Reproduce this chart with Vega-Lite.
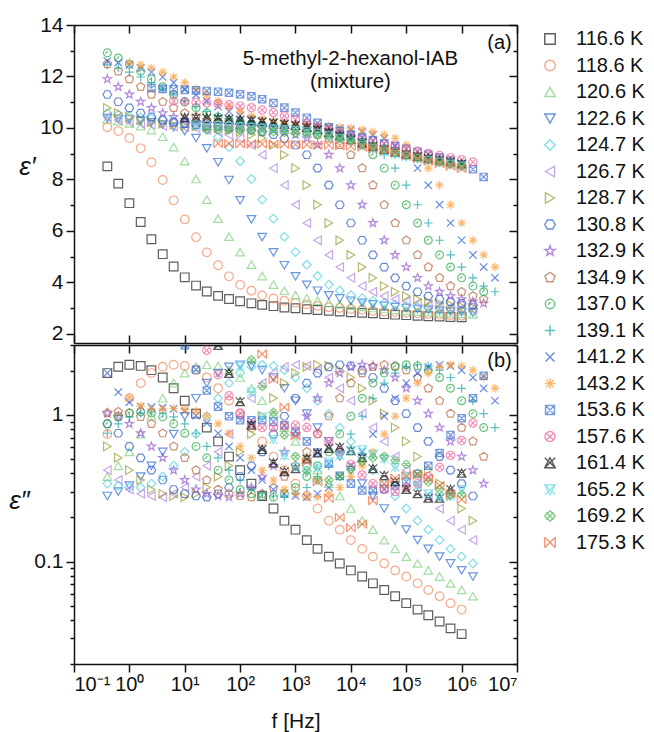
{
"$schema": "https://vega.github.io/schema/vega-lite/v6.json",
"background": "white",
"padding": {"left": 8, "top": 14, "right": 4, "bottom": 4},
"config": {
 "font": "Liberation Sans",
 "view": {"stroke": null},
 "axis": {"grid": false, "domainColor": "#111", "domainWidth": 1.5, "tickColor": "#111", "tickWidth": 1.5, "labelFont": "Liberation Sans", "labelFontSize": 20, "labelColor": "#111", "titleFont": "Liberation Sans", "titleColor": "#111", "titleFontWeight": "normal"}
},
"data": {"values": [
{"T":"116.6 K","f":0.4,"a":8.51,"b":1.93},{"T":"116.6 K","f":0.63,"a":7.84,"b":2.13},{"T":"116.6 K","f":1,"a":7.08,"b":2.2},{"T":"116.6 K","f":1.6,"a":6.35,"b":2.16},{"T":"116.6 K","f":2.5,"a":5.68,"b":2.02},{"T":"116.6 K","f":4,"a":5.1,"b":1.8},{"T":"116.6 K","f":6.3,"a":4.62,"b":1.52},{"T":"116.6 K","f":10,"a":4.2,"b":1.25},{"T":"116.6 K","f":16,"a":3.88,"b":1.02},{"T":"116.6 K","f":25,"a":3.65,"b":0.82},{"T":"116.6 K","f":40,"a":3.48,"b":0.66},{"T":"116.6 K","f":63,"a":3.36,"b":0.52},{"T":"116.6 K","f":100,"a":3.27,"b":0.42},{"T":"116.6 K","f":160,"a":3.19,"b":0.34},{"T":"116.6 K","f":250,"a":3.13,"b":0.28},{"T":"116.6 K","f":400,"a":3.08,"b":0.23},{"T":"116.6 K","f":630,"a":3.03,"b":0.19},{"T":"116.6 K","f":1000,"a":3.0,"b":0.165},{"T":"116.6 K","f":1600,"a":2.96,"b":0.14},{"T":"116.6 K","f":2500,"a":2.93,"b":0.122},{"T":"116.6 K","f":4000,"a":2.9,"b":0.108},{"T":"116.6 K","f":6300,"a":2.87,"b":0.097},{"T":"116.6 K","f":1e4,"a":2.84,"b":0.087},{"T":"116.6 K","f":1.6e4,"a":2.82,"b":0.079},{"T":"116.6 K","f":2.5e4,"a":2.8,"b":0.071},{"T":"116.6 K","f":4e4,"a":2.77,"b":0.064},{"T":"116.6 K","f":6.3e4,"a":2.75,"b":0.058},{"T":"116.6 K","f":1e5,"a":2.73,"b":0.052},{"T":"116.6 K","f":1.6e5,"a":2.71,"b":0.047},{"T":"116.6 K","f":2.5e5,"a":2.69,"b":0.043},{"T":"116.6 K","f":4e5,"a":2.68,"b":0.039},{"T":"116.6 K","f":6.3e5,"a":2.66,"b":0.035},{"T":"116.6 K","f":1e6,"a":2.65,"b":0.032},
{"T":"118.6 K","f":0.4,"a":10.03,"b":0.74},{"T":"118.6 K","f":0.63,"a":9.88,"b":0.98},{"T":"118.6 K","f":1,"a":9.61,"b":1.3},{"T":"118.6 K","f":1.6,"a":9.21,"b":1.65},{"T":"118.6 K","f":2.5,"a":8.67,"b":1.93},{"T":"118.6 K","f":4,"a":7.98,"b":2.13},{"T":"118.6 K","f":6.3,"a":7.19,"b":2.2},{"T":"118.6 K","f":10,"a":6.45,"b":2.16},{"T":"118.6 K","f":16,"a":5.76,"b":2.02},{"T":"118.6 K","f":25,"a":5.17,"b":1.8},{"T":"118.6 K","f":40,"a":4.67,"b":1.52},{"T":"118.6 K","f":63,"a":4.24,"b":1.25},{"T":"118.6 K","f":100,"a":3.91,"b":1.02},{"T":"118.6 K","f":160,"a":3.68,"b":0.82},{"T":"118.6 K","f":250,"a":3.5,"b":0.66},{"T":"118.6 K","f":400,"a":3.38,"b":0.52},{"T":"118.6 K","f":630,"a":3.29,"b":0.42},{"T":"118.6 K","f":1000,"a":3.21,"b":0.34},{"T":"118.6 K","f":1600,"a":3.15,"b":0.28},{"T":"118.6 K","f":2500,"a":3.09,"b":0.23},{"T":"118.6 K","f":4000,"a":3.04,"b":0.19},{"T":"118.6 K","f":6300,"a":3.01,"b":0.165},{"T":"118.6 K","f":1e4,"a":2.97,"b":0.14},{"T":"118.6 K","f":1.6e4,"a":2.94,"b":0.122},{"T":"118.6 K","f":2.5e4,"a":2.9,"b":0.108},{"T":"118.6 K","f":4e4,"a":2.87,"b":0.097},{"T":"118.6 K","f":6.3e4,"a":2.85,"b":0.087},{"T":"118.6 K","f":1e5,"a":2.83,"b":0.079},{"T":"118.6 K","f":1.6e5,"a":2.8,"b":0.071},{"T":"118.6 K","f":2.5e5,"a":2.78,"b":0.064},{"T":"118.6 K","f":4e5,"a":2.76,"b":0.058},{"T":"118.6 K","f":6.3e5,"a":2.73,"b":0.052},{"T":"118.6 K","f":1e6,"a":2.71,"b":0.047},
{"T":"120.6 K","f":0.4,"a":10.33,"b":0.38},{"T":"120.6 K","f":0.63,"a":10.27,"b":0.45},{"T":"120.6 K","f":1,"a":10.18,"b":0.56},{"T":"120.6 K","f":1.6,"a":10.07,"b":0.74},{"T":"120.6 K","f":2.5,"a":9.92,"b":0.98},{"T":"120.6 K","f":4,"a":9.66,"b":1.3},{"T":"120.6 K","f":6.3,"a":9.26,"b":1.65},{"T":"120.6 K","f":10,"a":8.71,"b":1.93},{"T":"120.6 K","f":16,"a":8.02,"b":2.13},{"T":"120.6 K","f":25,"a":7.22,"b":2.2},{"T":"120.6 K","f":40,"a":6.48,"b":2.16},{"T":"120.6 K","f":63,"a":5.78,"b":2.02},{"T":"120.6 K","f":100,"a":5.18,"b":1.8},{"T":"120.6 K","f":160,"a":4.69,"b":1.52},{"T":"120.6 K","f":250,"a":4.25,"b":1.25},{"T":"120.6 K","f":400,"a":3.92,"b":1.02},{"T":"120.6 K","f":630,"a":3.68,"b":0.82},{"T":"120.6 K","f":1000,"a":3.51,"b":0.66},{"T":"120.6 K","f":1600,"a":3.39,"b":0.52},{"T":"120.6 K","f":2500,"a":3.29,"b":0.42},{"T":"120.6 K","f":4000,"a":3.21,"b":0.34},{"T":"120.6 K","f":6300,"a":3.15,"b":0.28},{"T":"120.6 K","f":1e4,"a":3.09,"b":0.23},{"T":"120.6 K","f":1.6e4,"a":3.05,"b":0.19},{"T":"120.6 K","f":2.5e4,"a":3.01,"b":0.165},{"T":"120.6 K","f":4e4,"a":2.97,"b":0.14},{"T":"120.6 K","f":6.3e4,"a":2.94,"b":0.122},{"T":"120.6 K","f":1e5,"a":2.91,"b":0.108},{"T":"120.6 K","f":1.6e5,"a":2.87,"b":0.097},{"T":"120.6 K","f":2.5e5,"a":2.85,"b":0.087},{"T":"120.6 K","f":4e5,"a":2.83,"b":0.079},{"T":"120.6 K","f":6.3e5,"a":2.8,"b":0.071},{"T":"120.6 K","f":1e6,"a":2.78,"b":0.064},{"T":"120.6 K","f":1.6e6,"a":2.76,"b":0.058},
{"T":"122.6 K","f":0.4,"a":10.38,"b":0.28},{"T":"122.6 K","f":0.63,"a":10.36,"b":0.3},{"T":"122.6 K","f":1,"a":10.33,"b":0.33},{"T":"122.6 K","f":1.6,"a":10.28,"b":0.38},{"T":"122.6 K","f":2.5,"a":10.22,"b":0.45},{"T":"122.6 K","f":4,"a":10.13,"b":0.56},{"T":"122.6 K","f":6.3,"a":10.03,"b":0.74},{"T":"122.6 K","f":10,"a":9.88,"b":0.98},{"T":"122.6 K","f":16,"a":9.61,"b":1.3},{"T":"122.6 K","f":25,"a":9.21,"b":1.65},{"T":"122.6 K","f":40,"a":8.67,"b":1.93},{"T":"122.6 K","f":63,"a":7.98,"b":2.13},{"T":"122.6 K","f":100,"a":7.19,"b":2.2},{"T":"122.6 K","f":160,"a":6.45,"b":2.16},{"T":"122.6 K","f":250,"a":5.76,"b":2.02},{"T":"122.6 K","f":400,"a":5.17,"b":1.8},{"T":"122.6 K","f":630,"a":4.67,"b":1.52},{"T":"122.6 K","f":1000,"a":4.24,"b":1.25},{"T":"122.6 K","f":1600,"a":3.91,"b":1.02},{"T":"122.6 K","f":2500,"a":3.68,"b":0.82},{"T":"122.6 K","f":4000,"a":3.5,"b":0.66},{"T":"122.6 K","f":6300,"a":3.38,"b":0.52},{"T":"122.6 K","f":1e4,"a":3.29,"b":0.42},{"T":"122.6 K","f":1.6e4,"a":3.21,"b":0.34},{"T":"122.6 K","f":2.5e4,"a":3.15,"b":0.28},{"T":"122.6 K","f":4e4,"a":3.09,"b":0.23},{"T":"122.6 K","f":6.3e4,"a":3.04,"b":0.19},{"T":"122.6 K","f":1e5,"a":3.01,"b":0.165},{"T":"122.6 K","f":1.6e5,"a":2.97,"b":0.14},{"T":"122.6 K","f":2.5e5,"a":2.94,"b":0.122},{"T":"122.6 K","f":4e5,"a":2.9,"b":0.108},{"T":"122.6 K","f":6.3e5,"a":2.87,"b":0.097},{"T":"122.6 K","f":1e6,"a":2.85,"b":0.087},{"T":"122.6 K","f":1.6e6,"a":2.83,"b":0.079},
{"T":"124.7 K","f":0.4,"a":10.58,"b":0.34},{"T":"124.7 K","f":0.63,"a":10.52,"b":0.33},{"T":"124.7 K","f":1,"a":10.46,"b":0.32},{"T":"124.7 K","f":1.6,"a":10.41,"b":0.32},{"T":"124.7 K","f":2.5,"a":10.38,"b":0.34},{"T":"124.7 K","f":4,"a":10.33,"b":0.38},{"T":"124.7 K","f":6.3,"a":10.27,"b":0.45},{"T":"124.7 K","f":10,"a":10.18,"b":0.56},{"T":"124.7 K","f":16,"a":10.07,"b":0.74},{"T":"124.7 K","f":25,"a":9.92,"b":0.98},{"T":"124.7 K","f":40,"a":9.66,"b":1.3},{"T":"124.7 K","f":63,"a":9.26,"b":1.65},{"T":"124.7 K","f":100,"a":8.71,"b":1.93},{"T":"124.7 K","f":160,"a":8.02,"b":2.13},{"T":"124.7 K","f":250,"a":7.22,"b":2.2},{"T":"124.7 K","f":400,"a":6.48,"b":2.16},{"T":"124.7 K","f":630,"a":5.78,"b":2.02},{"T":"124.7 K","f":1000,"a":5.18,"b":1.8},{"T":"124.7 K","f":1600,"a":4.69,"b":1.52},{"T":"124.7 K","f":2500,"a":4.25,"b":1.25},{"T":"124.7 K","f":4000,"a":3.92,"b":1.02},{"T":"124.7 K","f":6300,"a":3.68,"b":0.82},{"T":"124.7 K","f":1e4,"a":3.51,"b":0.66},{"T":"124.7 K","f":1.6e4,"a":3.39,"b":0.52},{"T":"124.7 K","f":2.5e4,"a":3.29,"b":0.42},{"T":"124.7 K","f":4e4,"a":3.21,"b":0.34},{"T":"124.7 K","f":6.3e4,"a":3.15,"b":0.28},{"T":"124.7 K","f":1e5,"a":3.09,"b":0.23},{"T":"124.7 K","f":1.6e5,"a":3.05,"b":0.19},{"T":"124.7 K","f":2.5e5,"a":3.01,"b":0.165},{"T":"124.7 K","f":4e5,"a":2.97,"b":0.14},{"T":"124.7 K","f":6.3e5,"a":2.94,"b":0.122},{"T":"124.7 K","f":1e6,"a":2.91,"b":0.108},{"T":"124.7 K","f":1.6e6,"a":2.87,"b":0.097},
{"T":"126.7 K","f":0.4,"a":10.43,"b":0.42},{"T":"126.7 K","f":0.63,"a":10.31,"b":0.36},{"T":"126.7 K","f":1,"a":10.23,"b":0.31},{"T":"126.7 K","f":1.6,"a":10.17,"b":0.29},{"T":"126.7 K","f":2.5,"a":10.13,"b":0.28},{"T":"126.7 K","f":4,"a":10.08,"b":0.275},{"T":"126.7 K","f":6.3,"a":10.06,"b":0.29},{"T":"126.7 K","f":10,"a":10.03,"b":0.32},{"T":"126.7 K","f":16,"a":9.99,"b":0.38},{"T":"126.7 K","f":25,"a":9.93,"b":0.45},{"T":"126.7 K","f":40,"a":9.85,"b":0.56},{"T":"126.7 K","f":63,"a":9.74,"b":0.74},{"T":"126.7 K","f":100,"a":9.6,"b":0.98},{"T":"126.7 K","f":160,"a":9.34,"b":1.3},{"T":"126.7 K","f":250,"a":8.96,"b":1.65},{"T":"126.7 K","f":400,"a":8.44,"b":1.93},{"T":"126.7 K","f":630,"a":7.78,"b":2.13},{"T":"126.7 K","f":1000,"a":7.02,"b":2.2},{"T":"126.7 K","f":1600,"a":6.31,"b":2.16},{"T":"126.7 K","f":2500,"a":5.64,"b":2.02},{"T":"126.7 K","f":4000,"a":5.07,"b":1.8},{"T":"126.7 K","f":6300,"a":4.6,"b":1.52},{"T":"126.7 K","f":1e4,"a":4.18,"b":1.25},{"T":"126.7 K","f":1.6e4,"a":3.86,"b":1.02},{"T":"126.7 K","f":2.5e4,"a":3.64,"b":0.82},{"T":"126.7 K","f":4e4,"a":3.47,"b":0.66},{"T":"126.7 K","f":6.3e4,"a":3.35,"b":0.52},{"T":"126.7 K","f":1e5,"a":3.26,"b":0.42},{"T":"126.7 K","f":1.6e5,"a":3.19,"b":0.34},{"T":"126.7 K","f":2.5e5,"a":3.13,"b":0.28},{"T":"126.7 K","f":4e5,"a":3.07,"b":0.23},{"T":"126.7 K","f":6.3e5,"a":3.03,"b":0.19},{"T":"126.7 K","f":1e6,"a":2.99,"b":0.165},{"T":"126.7 K","f":1.6e6,"a":2.95,"b":0.14},
{"T":"128.7 K","f":0.4,"a":10.78,"b":0.61},{"T":"128.7 K","f":0.63,"a":10.58,"b":0.51},{"T":"128.7 K","f":1,"a":10.43,"b":0.42},{"T":"128.7 K","f":1.6,"a":10.31,"b":0.36},{"T":"128.7 K","f":2.5,"a":10.23,"b":0.31},{"T":"128.7 K","f":4,"a":10.17,"b":0.29},{"T":"128.7 K","f":6.3,"a":10.13,"b":0.28},{"T":"128.7 K","f":10,"a":10.08,"b":0.275},{"T":"128.7 K","f":16,"a":10.06,"b":0.29},{"T":"128.7 K","f":25,"a":10.03,"b":0.32},{"T":"128.7 K","f":40,"a":9.99,"b":0.38},{"T":"128.7 K","f":63,"a":9.93,"b":0.45},{"T":"128.7 K","f":100,"a":9.85,"b":0.56},{"T":"128.7 K","f":160,"a":9.74,"b":0.74},{"T":"128.7 K","f":250,"a":9.6,"b":0.98},{"T":"128.7 K","f":400,"a":9.34,"b":1.3},{"T":"128.7 K","f":630,"a":8.96,"b":1.65},{"T":"128.7 K","f":1000,"a":8.44,"b":1.93},{"T":"128.7 K","f":1600,"a":7.78,"b":2.13},{"T":"128.7 K","f":2500,"a":7.02,"b":2.2},{"T":"128.7 K","f":4000,"a":6.31,"b":2.16},{"T":"128.7 K","f":6300,"a":5.64,"b":2.02},{"T":"128.7 K","f":1e4,"a":5.07,"b":1.8},{"T":"128.7 K","f":1.6e4,"a":4.6,"b":1.52},{"T":"128.7 K","f":2.5e4,"a":4.18,"b":1.25},{"T":"128.7 K","f":4e4,"a":3.86,"b":1.02},{"T":"128.7 K","f":6.3e4,"a":3.64,"b":0.82},{"T":"128.7 K","f":1e5,"a":3.47,"b":0.66},{"T":"128.7 K","f":1.6e5,"a":3.35,"b":0.52},{"T":"128.7 K","f":2.5e5,"a":3.26,"b":0.42},{"T":"128.7 K","f":4e5,"a":3.19,"b":0.34},{"T":"128.7 K","f":6.3e5,"a":3.13,"b":0.28},{"T":"128.7 K","f":1e6,"a":3.07,"b":0.23},{"T":"128.7 K","f":1.6e6,"a":3.03,"b":0.19},
{"T":"130.8 K","f":0.4,"a":11.3,"b":0.87},{"T":"130.8 K","f":0.63,"a":11.02,"b":0.75},{"T":"130.8 K","f":1,"a":10.78,"b":0.61},{"T":"130.8 K","f":1.6,"a":10.58,"b":0.51},{"T":"130.8 K","f":2.5,"a":10.43,"b":0.42},{"T":"130.8 K","f":4,"a":10.31,"b":0.36},{"T":"130.8 K","f":6.3,"a":10.23,"b":0.31},{"T":"130.8 K","f":10,"a":10.17,"b":0.29},{"T":"130.8 K","f":16,"a":10.13,"b":0.28},{"T":"130.8 K","f":25,"a":10.08,"b":0.275},{"T":"130.8 K","f":40,"a":10.06,"b":0.29},{"T":"130.8 K","f":63,"a":10.03,"b":0.32},{"T":"130.8 K","f":100,"a":9.99,"b":0.38},{"T":"130.8 K","f":160,"a":9.93,"b":0.45},{"T":"130.8 K","f":250,"a":9.85,"b":0.56},{"T":"130.8 K","f":400,"a":9.74,"b":0.74},{"T":"130.8 K","f":630,"a":9.6,"b":0.98},{"T":"130.8 K","f":1000,"a":9.34,"b":1.3},{"T":"130.8 K","f":1600,"a":8.96,"b":1.65},{"T":"130.8 K","f":2500,"a":8.44,"b":1.93},{"T":"130.8 K","f":4000,"a":7.78,"b":2.13},{"T":"130.8 K","f":6300,"a":7.02,"b":2.2},{"T":"130.8 K","f":1e4,"a":6.31,"b":2.16},{"T":"130.8 K","f":1.6e4,"a":5.64,"b":2.02},{"T":"130.8 K","f":2.5e4,"a":5.07,"b":1.8},{"T":"130.8 K","f":4e4,"a":4.6,"b":1.52},{"T":"130.8 K","f":6.3e4,"a":4.18,"b":1.25},{"T":"130.8 K","f":1e5,"a":3.86,"b":1.02},{"T":"130.8 K","f":1.6e5,"a":3.64,"b":0.82},{"T":"130.8 K","f":2.5e5,"a":3.47,"b":0.66},{"T":"130.8 K","f":4e5,"a":3.35,"b":0.52},{"T":"130.8 K","f":6.3e5,"a":3.26,"b":0.42},{"T":"130.8 K","f":1e6,"a":3.19,"b":0.34},{"T":"130.8 K","f":1.6e6,"a":3.13,"b":0.28},
{"T":"132.9 K","f":0.4,"a":11.9,"b":1.03},{"T":"132.9 K","f":0.63,"a":11.6,"b":0.97},{"T":"132.9 K","f":1,"a":11.3,"b":0.87},{"T":"132.9 K","f":1.6,"a":11.02,"b":0.75},{"T":"132.9 K","f":2.5,"a":10.78,"b":0.61},{"T":"132.9 K","f":4,"a":10.58,"b":0.51},{"T":"132.9 K","f":6.3,"a":10.43,"b":0.42},{"T":"132.9 K","f":10,"a":10.31,"b":0.36},{"T":"132.9 K","f":16,"a":10.23,"b":0.31},{"T":"132.9 K","f":25,"a":10.17,"b":0.29},{"T":"132.9 K","f":40,"a":10.13,"b":0.28},{"T":"132.9 K","f":63,"a":10.08,"b":0.275},{"T":"132.9 K","f":100,"a":10.06,"b":0.29},{"T":"132.9 K","f":160,"a":10.03,"b":0.32},{"T":"132.9 K","f":250,"a":9.99,"b":0.38},{"T":"132.9 K","f":400,"a":9.93,"b":0.45},{"T":"132.9 K","f":630,"a":9.85,"b":0.56},{"T":"132.9 K","f":1000,"a":9.74,"b":0.74},{"T":"132.9 K","f":1600,"a":9.6,"b":0.98},{"T":"132.9 K","f":2500,"a":9.34,"b":1.3},{"T":"132.9 K","f":4000,"a":8.96,"b":1.65},{"T":"132.9 K","f":6300,"a":8.44,"b":1.93},{"T":"132.9 K","f":1e4,"a":7.78,"b":2.13},{"T":"132.9 K","f":1.6e4,"a":7.02,"b":2.2},{"T":"132.9 K","f":2.5e4,"a":6.31,"b":2.16},{"T":"132.9 K","f":4e4,"a":5.64,"b":2.02},{"T":"132.9 K","f":6.3e4,"a":5.07,"b":1.8},{"T":"132.9 K","f":1e5,"a":4.6,"b":1.52},{"T":"132.9 K","f":1.6e5,"a":4.18,"b":1.25},{"T":"132.9 K","f":2.5e5,"a":3.86,"b":1.02},{"T":"132.9 K","f":4e5,"a":3.64,"b":0.82},{"T":"132.9 K","f":6.3e5,"a":3.47,"b":0.66},{"T":"132.9 K","f":1e6,"a":3.35,"b":0.52},{"T":"132.9 K","f":1.6e6,"a":3.26,"b":0.42},{"T":"132.9 K","f":2.5e6,"a":3.19,"b":0.34},
{"T":"134.9 K","f":0.4,"a":12.48,"b":1.03},{"T":"134.9 K","f":0.63,"a":12.2,"b":1.05},{"T":"134.9 K","f":1,"a":11.9,"b":1.03},{"T":"134.9 K","f":1.6,"a":11.6,"b":0.97},{"T":"134.9 K","f":2.5,"a":11.3,"b":0.87},{"T":"134.9 K","f":4,"a":11.02,"b":0.75},{"T":"134.9 K","f":6.3,"a":10.78,"b":0.61},{"T":"134.9 K","f":10,"a":10.58,"b":0.51},{"T":"134.9 K","f":16,"a":10.43,"b":0.42},{"T":"134.9 K","f":25,"a":10.31,"b":0.36},{"T":"134.9 K","f":40,"a":10.23,"b":0.31},{"T":"134.9 K","f":63,"a":10.17,"b":0.29},{"T":"134.9 K","f":100,"a":10.13,"b":0.28},{"T":"134.9 K","f":160,"a":10.08,"b":0.275},{"T":"134.9 K","f":250,"a":10.06,"b":0.29},{"T":"134.9 K","f":400,"a":10.03,"b":0.32},{"T":"134.9 K","f":630,"a":9.99,"b":0.38},{"T":"134.9 K","f":1000,"a":9.93,"b":0.45},{"T":"134.9 K","f":1600,"a":9.85,"b":0.56},{"T":"134.9 K","f":2500,"a":9.74,"b":0.74},{"T":"134.9 K","f":4000,"a":9.6,"b":0.98},{"T":"134.9 K","f":6300,"a":9.34,"b":1.3},{"T":"134.9 K","f":1e4,"a":8.96,"b":1.65},{"T":"134.9 K","f":1.6e4,"a":8.44,"b":1.93},{"T":"134.9 K","f":2.5e4,"a":7.78,"b":2.13},{"T":"134.9 K","f":4e4,"a":7.02,"b":2.2},{"T":"134.9 K","f":6.3e4,"a":6.31,"b":2.16},{"T":"134.9 K","f":1e5,"a":5.64,"b":2.02},{"T":"134.9 K","f":1.6e5,"a":5.07,"b":1.8},{"T":"134.9 K","f":2.5e5,"a":4.6,"b":1.52},{"T":"134.9 K","f":4e5,"a":4.18,"b":1.25},{"T":"134.9 K","f":6.3e5,"a":3.86,"b":1.02},{"T":"134.9 K","f":1e6,"a":3.64,"b":0.82},{"T":"134.9 K","f":1.6e6,"a":3.47,"b":0.66},{"T":"134.9 K","f":2.5e6,"a":3.35,"b":0.52},
{"T":"137.0 K","f":0.4,"a":12.92,"b":0.87},{"T":"137.0 K","f":0.63,"a":12.72,"b":0.97},{"T":"137.0 K","f":1,"a":12.48,"b":1.03},{"T":"137.0 K","f":1.6,"a":12.2,"b":1.05},{"T":"137.0 K","f":2.5,"a":11.9,"b":1.03},{"T":"137.0 K","f":4,"a":11.6,"b":0.97},{"T":"137.0 K","f":6.3,"a":11.3,"b":0.87},{"T":"137.0 K","f":10,"a":11.02,"b":0.75},{"T":"137.0 K","f":16,"a":10.78,"b":0.61},{"T":"137.0 K","f":25,"a":10.58,"b":0.51},{"T":"137.0 K","f":40,"a":10.43,"b":0.42},{"T":"137.0 K","f":63,"a":10.31,"b":0.36},{"T":"137.0 K","f":100,"a":10.23,"b":0.31},{"T":"137.0 K","f":160,"a":10.17,"b":0.29},{"T":"137.0 K","f":250,"a":10.13,"b":0.28},{"T":"137.0 K","f":400,"a":10.08,"b":0.275},{"T":"137.0 K","f":630,"a":10.06,"b":0.29},{"T":"137.0 K","f":1000,"a":10.03,"b":0.32},{"T":"137.0 K","f":1600,"a":9.99,"b":0.38},{"T":"137.0 K","f":2500,"a":9.93,"b":0.45},{"T":"137.0 K","f":4000,"a":9.85,"b":0.56},{"T":"137.0 K","f":6300,"a":9.74,"b":0.74},{"T":"137.0 K","f":1e4,"a":9.6,"b":0.98},{"T":"137.0 K","f":1.6e4,"a":9.34,"b":1.3},{"T":"137.0 K","f":2.5e4,"a":8.96,"b":1.65},{"T":"137.0 K","f":4e4,"a":8.44,"b":1.93},{"T":"137.0 K","f":6.3e4,"a":7.78,"b":2.13},{"T":"137.0 K","f":1e5,"a":7.02,"b":2.2},{"T":"137.0 K","f":1.6e5,"a":6.31,"b":2.16},{"T":"137.0 K","f":2.5e5,"a":5.64,"b":2.02},{"T":"137.0 K","f":4e5,"a":5.07,"b":1.8},{"T":"137.0 K","f":6.3e5,"a":4.6,"b":1.52},{"T":"137.0 K","f":1e6,"a":4.18,"b":1.25},{"T":"137.0 K","f":1.6e6,"a":3.86,"b":1.02},{"T":"137.0 K","f":2.5e6,"a":3.64,"b":0.82},
{"T":"139.1 K","f":0.4,"a":12.45,"b":0.75},{"T":"139.1 K","f":0.63,"a":12.33,"b":0.87},{"T":"139.1 K","f":1,"a":12.17,"b":0.97},{"T":"139.1 K","f":1.6,"a":11.98,"b":1.03},{"T":"139.1 K","f":2.5,"a":11.76,"b":1.05},{"T":"139.1 K","f":4,"a":11.52,"b":1.03},{"T":"139.1 K","f":6.3,"a":11.29,"b":0.97},{"T":"139.1 K","f":10,"a":11.05,"b":0.87},{"T":"139.1 K","f":16,"a":10.83,"b":0.75},{"T":"139.1 K","f":25,"a":10.64,"b":0.61},{"T":"139.1 K","f":40,"a":10.48,"b":0.51},{"T":"139.1 K","f":63,"a":10.36,"b":0.42},{"T":"139.1 K","f":100,"a":10.27,"b":0.36},{"T":"139.1 K","f":160,"a":10.2,"b":0.31},{"T":"139.1 K","f":250,"a":10.16,"b":0.29},{"T":"139.1 K","f":400,"a":10.12,"b":0.28},{"T":"139.1 K","f":630,"a":10.08,"b":0.275},{"T":"139.1 K","f":1000,"a":10.06,"b":0.29},{"T":"139.1 K","f":1600,"a":10.03,"b":0.32},{"T":"139.1 K","f":2500,"a":9.99,"b":0.38},{"T":"139.1 K","f":4000,"a":9.93,"b":0.45},{"T":"139.1 K","f":6300,"a":9.85,"b":0.56},{"T":"139.1 K","f":1e4,"a":9.74,"b":0.74},{"T":"139.1 K","f":1.6e4,"a":9.6,"b":0.98},{"T":"139.1 K","f":2.5e4,"a":9.34,"b":1.3},{"T":"139.1 K","f":4e4,"a":8.96,"b":1.65},{"T":"139.1 K","f":6.3e4,"a":8.44,"b":1.93},{"T":"139.1 K","f":1e5,"a":7.78,"b":2.13},{"T":"139.1 K","f":1.6e5,"a":7.02,"b":2.2},{"T":"139.1 K","f":2.5e5,"a":6.31,"b":2.16},{"T":"139.1 K","f":4e5,"a":5.64,"b":2.02},{"T":"139.1 K","f":6.3e5,"a":5.07,"b":1.8},{"T":"139.1 K","f":1e6,"a":4.6,"b":1.52},{"T":"139.1 K","f":1.6e6,"a":4.18,"b":1.25},{"T":"139.1 K","f":2.5e6,"a":3.86,"b":1.02},{"T":"139.1 K","f":4e6,"a":3.64,"b":0.82},
{"T":"141.2 K","f":0.4,"a":12.6,"b":1.93},{"T":"141.2 K","f":0.63,"a":12.54,"b":1.43},{"T":"141.2 K","f":1,"a":12.45,"b":1.22},{"T":"141.2 K","f":1.6,"a":12.33,"b":1.14},{"T":"141.2 K","f":2.5,"a":12.17,"b":1.13},{"T":"141.2 K","f":4,"a":11.98,"b":1.12},{"T":"141.2 K","f":6.3,"a":11.76,"b":1.1},{"T":"141.2 K","f":10,"a":11.52,"b":1.06},{"T":"141.2 K","f":16,"a":11.29,"b":0.99},{"T":"141.2 K","f":25,"a":11.05,"b":0.88},{"T":"141.2 K","f":40,"a":10.83,"b":0.75},{"T":"141.2 K","f":63,"a":10.64,"b":0.61},{"T":"141.2 K","f":100,"a":10.48,"b":0.51},{"T":"141.2 K","f":160,"a":10.36,"b":0.42},{"T":"141.2 K","f":250,"a":10.27,"b":0.36},{"T":"141.2 K","f":400,"a":10.2,"b":0.31},{"T":"141.2 K","f":630,"a":10.16,"b":0.29},{"T":"141.2 K","f":1000,"a":10.12,"b":0.28},{"T":"141.2 K","f":1600,"a":10.08,"b":0.275},{"T":"141.2 K","f":2500,"a":10.06,"b":0.29},{"T":"141.2 K","f":4000,"a":10.03,"b":0.32},{"T":"141.2 K","f":6300,"a":9.99,"b":0.38},{"T":"141.2 K","f":1e4,"a":9.93,"b":0.45},{"T":"141.2 K","f":1.6e4,"a":9.85,"b":0.56},{"T":"141.2 K","f":2.5e4,"a":9.74,"b":0.74},{"T":"141.2 K","f":4e4,"a":9.6,"b":0.98},{"T":"141.2 K","f":6.3e4,"a":9.34,"b":1.3},{"T":"141.2 K","f":1e5,"a":8.96,"b":1.65},{"T":"141.2 K","f":1.6e5,"a":8.44,"b":1.93},{"T":"141.2 K","f":2.5e5,"a":7.78,"b":2.13},{"T":"141.2 K","f":4e5,"a":7.02,"b":2.2},{"T":"141.2 K","f":6.3e5,"a":6.31,"b":2.16},{"T":"141.2 K","f":1e6,"a":5.64,"b":2.02},{"T":"141.2 K","f":1.6e6,"a":5.07,"b":1.8},{"T":"141.2 K","f":2.5e6,"a":4.6,"b":1.52},{"T":"141.2 K","f":4e6,"a":4.18,"b":1.25},
{"T":"143.2 K","f":1,"a":12.54,"b":1.31},{"T":"143.2 K","f":1.6,"a":12.45,"b":1.15},{"T":"143.2 K","f":2.5,"a":12.33,"b":1.1},{"T":"143.2 K","f":4,"a":12.17,"b":1.1},{"T":"143.2 K","f":6.3,"a":11.98,"b":1.11},{"T":"143.2 K","f":10,"a":11.76,"b":1.09},{"T":"143.2 K","f":16,"a":11.52,"b":1.06},{"T":"143.2 K","f":25,"a":11.29,"b":0.985},{"T":"143.2 K","f":40,"a":11.05,"b":0.87},{"T":"143.2 K","f":63,"a":10.83,"b":0.75},{"T":"143.2 K","f":100,"a":10.64,"b":0.61},{"T":"143.2 K","f":160,"a":10.48,"b":0.51},{"T":"143.2 K","f":250,"a":10.36,"b":0.42},{"T":"143.2 K","f":400,"a":10.27,"b":0.36},{"T":"143.2 K","f":630,"a":10.2,"b":0.31},{"T":"143.2 K","f":1000,"a":10.16,"b":0.29},{"T":"143.2 K","f":1600,"a":10.12,"b":0.28},{"T":"143.2 K","f":2500,"a":10.08,"b":0.275},{"T":"143.2 K","f":4000,"a":10.06,"b":0.29},{"T":"143.2 K","f":6300,"a":10.03,"b":0.32},{"T":"143.2 K","f":1e4,"a":9.99,"b":0.38},{"T":"143.2 K","f":1.6e4,"a":9.93,"b":0.45},{"T":"143.2 K","f":2.5e4,"a":9.85,"b":0.56},{"T":"143.2 K","f":4e4,"a":9.74,"b":0.74},{"T":"143.2 K","f":6.3e4,"a":9.6,"b":0.98},{"T":"143.2 K","f":1e5,"a":9.34,"b":1.3},{"T":"143.2 K","f":1.6e5,"a":8.96,"b":1.65},{"T":"143.2 K","f":2.5e5,"a":8.44,"b":1.93},{"T":"143.2 K","f":4e5,"a":7.78,"b":2.13},{"T":"143.2 K","f":6.3e5,"a":7.02,"b":2.2},{"T":"143.2 K","f":1e6,"a":6.31,"b":2.16},{"T":"143.2 K","f":1.6e6,"a":5.64,"b":2.02},{"T":"143.2 K","f":2.5e6,"a":5.07,"b":1.8},{"T":"143.2 K","f":4e6,"a":4.6,"b":1.52},
{"T":"153.6 K","f":2.5,"a":11.55,"b":10.5},{"T":"153.6 K","f":4,"a":11.52,"b":6.8},{"T":"153.6 K","f":6.3,"a":11.5,"b":4.48},{"T":"153.6 K","f":10,"a":11.48,"b":2.98},{"T":"153.6 K","f":16,"a":11.46,"b":2.04},{"T":"153.6 K","f":25,"a":11.44,"b":1.47},{"T":"153.6 K","f":40,"a":11.41,"b":1.14},{"T":"153.6 K","f":63,"a":11.37,"b":0.98},{"T":"153.6 K","f":100,"a":11.31,"b":0.92},{"T":"153.6 K","f":160,"a":11.23,"b":0.92},{"T":"153.6 K","f":250,"a":11.12,"b":0.92},{"T":"153.6 K","f":400,"a":10.97,"b":0.9},{"T":"153.6 K","f":630,"a":10.79,"b":0.85},{"T":"153.6 K","f":1000,"a":10.6,"b":0.77},{"T":"153.6 K","f":1600,"a":10.4,"b":0.66},{"T":"153.6 K","f":2500,"a":10.2,"b":0.555},{"T":"153.6 K","f":4000,"a":10.03,"b":0.465},{"T":"153.6 K","f":6300,"a":9.88,"b":0.385},{"T":"153.6 K","f":1e4,"a":9.75,"b":0.34},{"T":"153.6 K","f":1.6e4,"a":9.63,"b":0.305},{"T":"153.6 K","f":2.5e4,"a":9.52,"b":0.305},{"T":"153.6 K","f":4e4,"a":9.41,"b":0.313},{"T":"153.6 K","f":6.3e4,"a":9.3,"b":0.33},{"T":"153.6 K","f":1e5,"a":9.19,"b":0.35},{"T":"153.6 K","f":1.6e5,"a":9.08,"b":0.395},{"T":"153.6 K","f":2.5e5,"a":8.97,"b":0.45},{"T":"153.6 K","f":4e5,"a":8.86,"b":0.55},{"T":"153.6 K","f":6.3e5,"a":8.74,"b":0.73},{"T":"153.6 K","f":1e6,"a":8.6,"b":0.95},{"T":"153.6 K","f":1.6e6,"a":8.4,"b":1.3},{"T":"153.6 K","f":2.5e6,"a":8.1,"b":1.85},
{"T":"157.6 K","f":6.3,"a":11.05,"b":9.8},{"T":"157.6 K","f":10,"a":11.02,"b":6.3},{"T":"157.6 K","f":16,"a":11.0,"b":4.14},{"T":"157.6 K","f":25,"a":10.97,"b":2.76},{"T":"157.6 K","f":40,"a":10.94,"b":1.88},{"T":"157.6 K","f":63,"a":10.9,"b":1.35},{"T":"157.6 K","f":100,"a":10.85,"b":1.03},{"T":"157.6 K","f":160,"a":10.79,"b":0.87},{"T":"157.6 K","f":250,"a":10.7,"b":0.82},{"T":"157.6 K","f":400,"a":10.6,"b":0.82},{"T":"157.6 K","f":630,"a":10.47,"b":0.84},{"T":"157.6 K","f":1000,"a":10.33,"b":0.85},{"T":"157.6 K","f":1600,"a":10.18,"b":0.82},{"T":"157.6 K","f":2500,"a":10.04,"b":0.75},{"T":"157.6 K","f":4000,"a":9.91,"b":0.66},{"T":"157.6 K","f":6300,"a":9.79,"b":0.56},{"T":"157.6 K","f":1e4,"a":9.68,"b":0.46},{"T":"157.6 K","f":1.6e4,"a":9.58,"b":0.39},{"T":"157.6 K","f":2.5e4,"a":9.48,"b":0.34},{"T":"157.6 K","f":4e4,"a":9.38,"b":0.31},{"T":"157.6 K","f":6.3e4,"a":9.28,"b":0.3},{"T":"157.6 K","f":1e5,"a":9.19,"b":0.32},{"T":"157.6 K","f":1.6e5,"a":9.1,"b":0.34},{"T":"157.6 K","f":2.5e5,"a":9.01,"b":0.38},{"T":"157.6 K","f":4e5,"a":8.93,"b":0.44},{"T":"157.6 K","f":6.3e5,"a":8.85,"b":0.53},{"T":"157.6 K","f":1e6,"a":8.77,"b":0.67},{"T":"157.6 K","f":1.6e6,"a":8.68,"b":0.88},
{"T":"161.4 K","f":10,"a":10.4,"b":11.2},{"T":"161.4 K","f":16,"a":10.39,"b":7.2},{"T":"161.4 K","f":25,"a":10.38,"b":4.63},{"T":"161.4 K","f":40,"a":10.36,"b":2.98},{"T":"161.4 K","f":63,"a":10.34,"b":1.92},{"T":"161.4 K","f":100,"a":10.31,"b":1.23},{"T":"161.4 K","f":160,"a":10.28,"b":0.85},{"T":"161.4 K","f":250,"a":10.24,"b":0.58},{"T":"161.4 K","f":400,"a":10.2,"b":0.47},{"T":"161.4 K","f":630,"a":10.15,"b":0.41},{"T":"161.4 K","f":1000,"a":10.1,"b":0.43},{"T":"161.4 K","f":1600,"a":10.02,"b":0.5},{"T":"161.4 K","f":2500,"a":9.93,"b":0.55},{"T":"161.4 K","f":4000,"a":9.82,"b":0.59},{"T":"161.4 K","f":6300,"a":9.69,"b":0.6},{"T":"161.4 K","f":1e4,"a":9.55,"b":0.57},{"T":"161.4 K","f":1.6e4,"a":9.41,"b":0.51},{"T":"161.4 K","f":2.5e4,"a":9.28,"b":0.43},{"T":"161.4 K","f":4e4,"a":9.16,"b":0.385},{"T":"161.4 K","f":6.3e4,"a":9.06,"b":0.35},{"T":"161.4 K","f":1e5,"a":8.97,"b":0.31},{"T":"161.4 K","f":1.6e5,"a":8.89,"b":0.29},{"T":"161.4 K","f":2.5e5,"a":8.82,"b":0.27},{"T":"161.4 K","f":4e5,"a":8.75,"b":0.27},{"T":"161.4 K","f":6.3e5,"a":8.68,"b":0.31},{"T":"161.4 K","f":1e6,"a":8.6,"b":0.4},
{"T":"165.2 K","f":16,"a":10.12,"b":12},{"T":"165.2 K","f":25,"a":10.1,"b":7.8},{"T":"165.2 K","f":40,"a":10.09,"b":5.0},{"T":"165.2 K","f":63,"a":10.07,"b":3.24},{"T":"165.2 K","f":100,"a":10.05,"b":2.15},{"T":"165.2 K","f":160,"a":10.03,"b":1.43},{"T":"165.2 K","f":250,"a":10.0,"b":0.97},{"T":"165.2 K","f":400,"a":9.97,"b":0.68},{"T":"165.2 K","f":630,"a":9.94,"b":0.53},{"T":"165.2 K","f":1000,"a":9.9,"b":0.44},{"T":"165.2 K","f":1600,"a":9.85,"b":0.42},{"T":"165.2 K","f":2500,"a":9.79,"b":0.435},{"T":"165.2 K","f":4000,"a":9.7,"b":0.48},{"T":"165.2 K","f":6300,"a":9.59,"b":0.53},{"T":"165.2 K","f":1e4,"a":9.46,"b":0.57},{"T":"165.2 K","f":1.6e4,"a":9.33,"b":0.58},{"T":"165.2 K","f":2.5e4,"a":9.2,"b":0.54},{"T":"165.2 K","f":4e4,"a":9.08,"b":0.5},{"T":"165.2 K","f":6.3e4,"a":8.98,"b":0.44},{"T":"165.2 K","f":1e5,"a":8.89,"b":0.38},{"T":"165.2 K","f":1.6e5,"a":8.81,"b":0.33},{"T":"165.2 K","f":2.5e5,"a":8.74,"b":0.29},{"T":"165.2 K","f":4e5,"a":8.67,"b":0.275},{"T":"165.2 K","f":6.3e5,"a":8.6,"b":0.28},{"T":"165.2 K","f":1e6,"a":8.52,"b":0.31},
{"T":"169.2 K","f":25,"a":9.95,"b":13},{"T":"169.2 K","f":40,"a":9.94,"b":8.6},{"T":"169.2 K","f":63,"a":9.93,"b":5.6},{"T":"169.2 K","f":100,"a":9.91,"b":3.63},{"T":"169.2 K","f":160,"a":9.9,"b":2.37},{"T":"169.2 K","f":250,"a":9.88,"b":1.57},{"T":"169.2 K","f":400,"a":9.86,"b":1.04},{"T":"169.2 K","f":630,"a":9.83,"b":0.73},{"T":"169.2 K","f":1000,"a":9.8,"b":0.52},{"T":"169.2 K","f":1600,"a":9.77,"b":0.415},{"T":"169.2 K","f":2500,"a":9.73,"b":0.36},{"T":"169.2 K","f":4000,"a":9.68,"b":0.36},{"T":"169.2 K","f":6300,"a":9.61,"b":0.38},{"T":"169.2 K","f":1e4,"a":9.52,"b":0.425},{"T":"169.2 K","f":1.6e4,"a":9.41,"b":0.48},{"T":"169.2 K","f":2.5e4,"a":9.29,"b":0.51},{"T":"169.2 K","f":4e4,"a":9.17,"b":0.52},{"T":"169.2 K","f":6.3e4,"a":9.05,"b":0.49},{"T":"169.2 K","f":1e5,"a":8.94,"b":0.46},{"T":"169.2 K","f":1.6e5,"a":8.84,"b":0.4},{"T":"169.2 K","f":2.5e5,"a":8.76,"b":0.35},{"T":"169.2 K","f":4e5,"a":8.68,"b":0.31},{"T":"169.2 K","f":6.3e5,"a":8.6,"b":0.285},{"T":"169.2 K","f":1e6,"a":8.52,"b":0.285},
{"T":"175.3 K","f":40,"a":9.4,"b":14.7},{"T":"175.3 K","f":63,"a":9.39,"b":9.7},{"T":"175.3 K","f":100,"a":9.39,"b":6.2},{"T":"175.3 K","f":160,"a":9.38,"b":4.0},{"T":"175.3 K","f":250,"a":9.38,"b":2.6},{"T":"175.3 K","f":400,"a":9.37,"b":1.75},{"T":"175.3 K","f":630,"a":9.37,"b":1.13},{"T":"175.3 K","f":1000,"a":9.36,"b":0.72},{"T":"175.3 K","f":1600,"a":9.35,"b":0.48},{"T":"175.3 K","f":2500,"a":9.34,"b":0.35},{"T":"175.3 K","f":4000,"a":9.33,"b":0.27},{"T":"175.3 K","f":6300,"a":9.31,"b":0.2},{"T":"175.3 K","f":1e4,"a":9.29,"b":0.17},{"T":"175.3 K","f":1.6e4,"a":9.26,"b":0.18},{"T":"175.3 K","f":2.5e4,"a":9.21,"b":0.26},{"T":"175.3 K","f":4e4,"a":9.14,"b":0.34},{"T":"175.3 K","f":6.3e4,"a":9.05,"b":0.37},{"T":"175.3 K","f":1e5,"a":8.94,"b":0.385},{"T":"175.3 K","f":1.6e5,"a":8.83,"b":0.39},{"T":"175.3 K","f":2.5e5,"a":8.72,"b":0.37},{"T":"175.3 K","f":4e5,"a":8.62,"b":0.33},{"T":"175.3 K","f":6.3e5,"a":8.52,"b":0.29},{"T":"175.3 K","f":1e6,"a":8.43,"b":0.265}
]},
"spacing": 0,
"resolve": {"scale": {"x": "independent", "y": "independent", "color": "shared", "shape": "shared"}, "legend": {"color": "shared", "shape": "shared"}},
"vconcat": [
 {
  "width": 443, "height": 318,
  "resolve": {"axis": {"x": "independent", "y": "independent"}},
  "layer": [
   {
    "mark": {"type": "point", "filled": false, "size": 75, "strokeWidth": 1.2, "clip": true},
    "encoding": {
     "x": {"field": "f", "type": "quantitative", "scale": {"type": "log", "domain": [0.1, 1e7], "nice": false},
           "axis": {"orient": "bottom", "values": [0.1,1,10,100,1000,1e4,1e5,1e6,1e7], "labels": false, "tickSize": -8, "title": null}},
     "y": {"field": "a", "type": "quantitative", "scale": {"domain": [1.65, 14], "nice": false, "zero": false},
           "axis": {"orient": "left", "values": [2,3,4,5,6,7,8,9,10,11,12,13,14], "labelExpr": "datum.value % 2 == 0 ? datum.label : ''",
                    "tickSize": {"condition": {"test": "datum.value % 2 == 0", "value": 8}, "value": 4},
                    "labelFontSize": 21, "labelPadding": 3,
                    "title": "ε′", "titleFontSize": 26, "titleFontStyle": "italic", "titleAngle": 0, "titleAlign": "center", "titleBaseline": "middle", "titleX": -47, "titleY": 141}},
     "color": {"field": "T", "type": "nominal",
               "scale": {"domain": ["116.6 K","118.6 K","120.6 K","122.6 K","124.7 K","126.7 K","128.7 K","130.8 K","132.9 K","134.9 K","137.0 K","139.1 K","141.2 K","143.2 K","153.6 K","157.6 K","161.4 K","165.2 K","169.2 K","175.3 K"],
                         "range": ["#1a1a1a","#f4875a","#7ccf7a","#2d6ad6","#4dd0e1","#b283e0","#9a9a32","#2b59c3","#9558d0","#b5653e","#2aa84a","#12a3a8","#2a5bd7","#ff9933","#3d6fd0","#f0609a","#111111","#66d9e8","#52b552","#f26b3a"]},
               "legend": {"title": null, "orient": "right", "offset": 18, "padding": 4, "labelFontSize": 20, "labelFont": "Liberation Sans", "labelColor": "#111", "symbolSize": 110, "symbolStrokeWidth": 1.4, "rowPadding": 6.5, "labelOffset": 16}},
     "shape": {"field": "T", "type": "nominal",
               "scale": {"domain": ["116.6 K","118.6 K","120.6 K","122.6 K","124.7 K","126.7 K","128.7 K","130.8 K","132.9 K","134.9 K","137.0 K","139.1 K","141.2 K","143.2 K","153.6 K","157.6 K","161.4 K","165.2 K","169.2 K","175.3 K"],
                         "range": ["square","circle","triangle-up","triangle-down","diamond","triangle-left","triangle-right",
                                   "M-1,0L-0.5,-0.866L0.5,-0.866L1,0L0.5,0.866L-0.5,0.866Z",
                                   "M0,-1L0.235,-0.324L0.951,-0.309L0.38,0.124L0.588,0.809L0,0.4L-0.588,0.809L-0.38,0.124L-0.951,-0.309L-0.235,-0.324Z",
                                   "M0,-1L0.951,-0.309L0.588,0.809L-0.588,0.809L-0.951,-0.309Z",
                                   "M0.9,0A0.9,0.9,0,1,1,-0.9,0A0.9,0.9,0,1,1,0.9,0ZM-0.45,0.15L0.15,-0.35",
                                   "M-1,0L1,0M0,-1L0,1",
                                   "M-0.85,-0.85L0.85,0.85M-0.85,0.85L0.85,-0.85",
                                   "M-1,0L1,0M0,-1L0,1M-0.7,-0.7L0.7,0.7M-0.7,0.7L0.7,-0.7",
                                   "M-0.85,-0.85L0.85,-0.85L0.85,0.85L-0.85,0.85ZM-0.85,-0.85L0.85,0.85M-0.85,0.85L0.85,-0.85",
                                   "M0.95,0A0.95,0.95,0,1,1,-0.95,0A0.95,0.95,0,1,1,0.95,0ZM-0.67,-0.67L0.67,0.67M-0.67,0.67L0.67,-0.67",
                                   "M0,-1L1,0.9L-1,0.9ZM-1,-1L1,0.9M1,-1L-1,0.9",
                                   "M-1,-0.9L1,-0.9L0,1ZM-1,-0.9L1,1M1,-0.9L-1,1",
                                   "M0,-1L1,0L0,1L-1,0ZM-0.7,-0.7L0.7,0.7M-0.7,0.7L0.7,-0.7",
                                   "M-1,-1L1,1M-1,1L1,-1M-1,-1L-1,1M1,-1L1,1"]},
               "legend": {"title": null, "orient": "right", "offset": 18, "padding": 4, "labelFontSize": 20, "labelFont": "Liberation Sans", "labelColor": "#111", "symbolSize": 110, "symbolStrokeWidth": 1.4, "rowPadding": 6.5, "labelOffset": 16}}
    }
   },
   {
    "mark": {"type": "point", "opacity": 0, "clip": true},
    "encoding": {
     "x": {"field": "f", "type": "quantitative", "scale": {"type": "log", "domain": [0.1, 1e7], "nice": false},
           "axis": {"orient": "top", "values": [0.1,1,10,100,1000,1e4,1e5,1e6,1e7], "labels": false, "tickSize": -8,
                    "title": ["5-methyl-2-hexanol-IAB", "(mixture)"], "titleFontSize": 20.5, "titleLineHeight": 23, "titleAlign": "center", "titleBaseline": "middle", "titleX": 276, "titleY": 33}},
     "y": {"field": "a", "type": "quantitative", "scale": {"domain": [1.65, 14], "nice": false, "zero": false},
           "axis": {"orient": "right", "values": [2,3,4,5,6,7,8,9,10,11,12,13,14], "labels": false,
                    "tickSize": {"condition": {"test": "datum.value % 2 == 0", "value": -8}, "value": -4},
                    "title": "(a)", "titleFontSize": 20, "titleAngle": 0, "titleAlign": "center", "titleBaseline": "middle", "titleX": -18, "titleY": 17}}
    }
   }
  ]
 },
 {
  "width": 443, "height": 319,
  "resolve": {"axis": {"x": "independent", "y": "independent"}},
  "layer": [
   {
    "mark": {"type": "point", "filled": false, "size": 75, "strokeWidth": 1.2, "clip": true},
    "encoding": {
     "x": {"field": "f", "type": "quantitative", "scale": {"type": "log", "domain": [0.1, 1e7], "nice": false},
           "axis": {"orient": "bottom", "values": [0.1,1,10,100,1000,1e4,1e5,1e6,1e7], "tickSize": 8, "labelPadding": 2,
                    "labelExpr": "['10⁻¹','10⁰','10¹','10²','10³','10⁴','10⁵','10⁶','10⁷'][round(log(datum.value)/LN10)+1]",
                    "title": "f [Hz]", "titleFontSize": 21, "titlePadding": 16}},
     "y": {"field": "b", "type": "quantitative", "scale": {"type": "log", "domain": [0.02, 3], "nice": false},
           "axis": {"orient": "left", "values": [0.02,0.03,0.04,0.05,0.06,0.07,0.08,0.09,0.1,0.2,0.3,0.4,0.5,0.6,0.7,0.8,0.9,1,2,3],
                    "labelExpr": "datum.value == 1 ? '1' : (datum.value == 0.1 ? '0.1' : '')",
                    "tickSize": {"condition": {"test": "datum.value == 1 || datum.value == 0.1", "value": 8}, "value": 4},
                    "labelFontSize": 21, "labelPadding": 3,
                    "title": "ε″", "titleFontSize": 26, "titleFontStyle": "italic", "titleAngle": 0, "titleAlign": "center", "titleBaseline": "middle", "titleX": -55, "titleY": 155}},
     "color": {"field": "T", "type": "nominal",
               "scale": {"domain": ["116.6 K","118.6 K","120.6 K","122.6 K","124.7 K","126.7 K","128.7 K","130.8 K","132.9 K","134.9 K","137.0 K","139.1 K","141.2 K","143.2 K","153.6 K","157.6 K","161.4 K","165.2 K","169.2 K","175.3 K"]},
               "legend": {"title": null, "orient": "right", "offset": 18, "padding": 4, "labelFontSize": 20, "labelFont": "Liberation Sans", "labelColor": "#111", "symbolSize": 110, "symbolStrokeWidth": 1.4, "rowPadding": 6.5, "labelOffset": 16}},
     "shape": {"field": "T", "type": "nominal",
               "legend": {"title": null, "orient": "right", "offset": 18, "padding": 4, "labelFontSize": 20, "labelFont": "Liberation Sans", "labelColor": "#111", "symbolSize": 110, "symbolStrokeWidth": 1.4, "rowPadding": 6.5, "labelOffset": 16}}
    }
   },
   {
    "mark": {"type": "point", "opacity": 0, "clip": true},
    "encoding": {
     "x": {"field": "f", "type": "quantitative", "scale": {"type": "log", "domain": [0.1, 1e7], "nice": false},
           "axis": {"orient": "top", "values": [0.1,1,10,100,1000,1e4,1e5,1e6,1e7], "labels": false, "tickSize": -8, "title": null}},
     "y": {"field": "b", "type": "quantitative", "scale": {"type": "log", "domain": [0.02, 3], "nice": false},
           "axis": {"orient": "right", "values": [0.02,0.03,0.04,0.05,0.06,0.07,0.08,0.09,0.1,0.2,0.3,0.4,0.5,0.6,0.7,0.8,0.9,1,2,3], "labels": false,
                    "tickSize": {"condition": {"test": "datum.value == 1 || datum.value == 0.1", "value": -8}, "value": -4},
                    "title": "(b)", "titleFontSize": 20, "titleAngle": 0, "titleAlign": "center", "titleBaseline": "middle", "titleX": -18, "titleY": 15}}
    }
   }
  ]
 }
]
}
